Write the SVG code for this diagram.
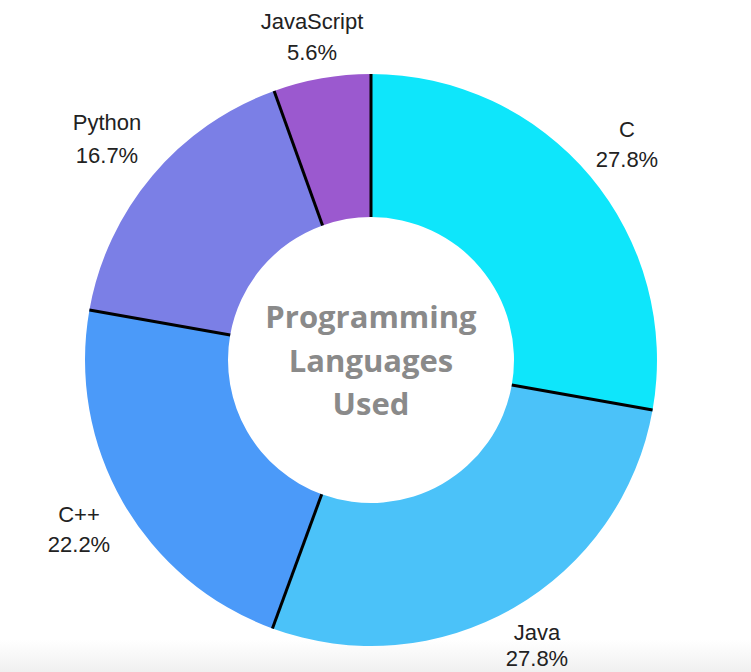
<svg xmlns="http://www.w3.org/2000/svg" width="751" height="672" viewBox="0 0 751 672">
<style>
.lbl{font-family:"Liberation Sans",Arial,sans-serif;font-size:22px;fill:#222;text-anchor:middle}
.ctr{font-family:"Open Sans","Liberation Sans",sans-serif;font-weight:bold;font-size:31px;fill:#8a8a8a;text-anchor:middle}
.sep{stroke:#000;stroke-width:3;stroke-linecap:butt}
</style>
<defs>
<linearGradient id="bot" x1="0" y1="0" x2="0" y2="1">
<stop offset="0" stop-color="#ffffff"/>
<stop offset="1" stop-color="#f0f0f0"/>
</linearGradient>
</defs>
<rect width="751" height="672" fill="#ffffff"/>
<rect y="640" width="751" height="32" fill="url(#bot)"/>
<g id="slice-c"><path d="M371,74 A286,286 0 0 1 652.58,410.06 L511.79,385.03 A143,143 0 0 0 371,217 Z" fill="#0ee6fb"/></g>
<g id="slice-java"><path d="M652.58,410.06 A286,286 0 0 1 272.43,628.48 L321.72,494.24 A143,143 0 0 0 511.79,385.03 Z" fill="#4bc2f9"/></g>
<g id="slice-cpp"><path d="M272.43,628.48 A286,286 0 0 1 89.42,309.94 L230.21,334.97 A143,143 0 0 0 321.72,494.24 Z" fill="#4b9af9"/></g>
<g id="slice-python"><path d="M89.42,309.94 A286,286 0 0 1 274.12,90.91 L322.56,225.45 A143,143 0 0 0 230.21,334.97 Z" fill="#7b7fe6"/></g>
<g id="slice-js"><path d="M274.12,90.91 A286,286 0 0 1 371,74 L371,217 A143,143 0 0 0 322.56,225.45 Z" fill="#9b59cf"/></g>
<g id="separators">
<line class="sep" x1="371" y1="74" x2="371" y2="217"/>
<line class="sep" x1="652.58" y1="410.06" x2="511.79" y2="385.03"/>
<line class="sep" x1="272.43" y1="628.48" x2="321.72" y2="494.24"/>
<line class="sep" x1="89.42" y1="309.94" x2="230.21" y2="334.97"/>
<line class="sep" x1="274.12" y1="90.91" x2="322.56" y2="225.45"/>
</g>
<g id="center-title">
<text class="ctr" x="371" y="328">Programming</text>
<text class="ctr" x="371" y="372">Languages</text>
<text class="ctr" x="371" y="415">Used</text>
</g>
<g id="label-js"><text class="lbl" x="312" y="29">JavaScript</text><text class="lbl" x="312" y="60">5.6%</text></g>
<g id="label-c"><text class="lbl" x="627" y="137">C</text><text class="lbl" x="627" y="167">27.8%</text></g>
<g id="label-python"><text class="lbl" x="107" y="130">Python</text><text class="lbl" x="107" y="163">16.7%</text></g>
<g id="label-cpp"><text class="lbl" x="79" y="522">C++</text><text class="lbl" x="79" y="552">22.2%</text></g>
<g id="label-java"><text class="lbl" x="537" y="640">Java</text><text class="lbl" x="537" y="666">27.8%</text></g>
</svg>
